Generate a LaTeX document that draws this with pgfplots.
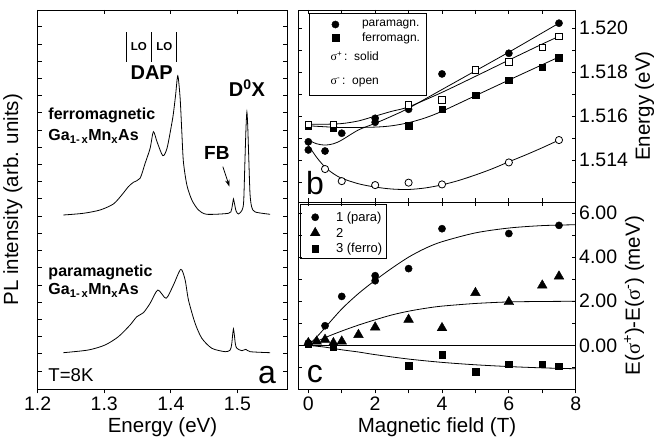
\documentclass[border=0pt]{standalone}
\usepackage{fontspec}
\setmainfont{Liberation Sans}
\newfontfamily\serif{Liberation Serif}
\usepackage{pgfplots}
\pgfplotsset{compat=1.18}
\usetikzlibrary{arrows.meta}

\newcommand{\fs}[1]{\fontsize{#1}{#1}\selectfont}
\newcommand{\sig}{{\serif σ}}

\pgfplotsset{
  panel/.style={
    scale only axis,
    axis line style={line width=0.9pt},
    tick style={black, line width=0.8pt},
    major tick length=4pt, minor tick length=4pt,
    tick label style={font=\fs{19.5}},
    label style={font=\fs{20.5}},
    /pgf/number format/assume math mode=true,
    clip=false,
  },
  toponly/.style={
    scale only axis,
    axis line style={line width=0.9pt},
    tick style={black, line width=0.8pt},
    major tick length=4pt,
    xtick pos=right, xtick align=inside, xticklabels={}, ytick=\empty,
  },
  fit/.style={black, line width=0.8pt, smooth, no markers},
  spec/.style={black, line width=0.8pt, smooth, tension=0.45, no markers},
  dot/.style={only marks, mark=*, mark size=3.6pt, black},
  odot/.style={only marks, mark=*, mark size=3.6pt, black, mark options={fill=white, line width=0.8pt}},
  sq/.style={only marks, mark=square*, mark size=3.3pt, black},
  osq/.style={only marks, mark=square*, mark size=3.3pt, black, mark options={fill=white, line width=0.8pt}},
  tri/.style={only marks, mark=triangle*, mark size=5.6pt, black},
  keybox/.style={legend style={draw=none, fill=none, inner sep=0pt, row sep=0pt,
    nodes={inner xsep=2pt, inner ysep=2pt}}, legend cell align=left},
}

\begin{document}
\begin{tikzpicture}
\path[use as bounding box] (0pt,0pt) rectangle (662pt,444pt);

% ---------------- panel a: PL spectra ----------------
\begin{axis}[panel,
  at={(37.7pt,54.5pt)}, anchor=south west,
  width=249.6pt, height=379.5pt,
  xmin=1.2, xmax=1.575, ymin=-0.5, ymax=379,
  xtick={1.2,1.3,1.4,1.5}, xticklabels={1.2,1.3,1.4,1.5},
  xtick pos=left, xtick align=outside,
  ytick={18,35.215,...,363}, yticklabels={},
  ytick pos=both, ytick align=inside,
  xlabel={Energy (eV)},
  ylabel={PL intensity (arb. units)},
  ylabel style={at={(axis description cs:-0.1,0.5)}, anchor=center},
]
% ferromagnetic sample
\addplot[spec] coordinates {
 (1.2385,174) (1.2686,175.7) (1.2937,179) (1.3137,185) (1.3263,194)
 (1.3362,202.3) (1.3438,206.7) (1.3538,210.7) (1.3614,225.7) (1.3689,240.7)
 (1.3738,257.3) (1.3794,247) (1.3880,233.3) (1.3944,241) (1.4015,265.7)
 (1.4039,275.7) (1.4072,294) (1.4105,313.3) (1.4140,290.7) (1.4165,257.3)
 (1.4189,227.3) (1.4241,204) (1.4316,189) (1.4415,179) (1.4541,174.7)
 (1.4866,175.7) (1.4910,179) (1.4930,186) (1.4941,190) (1.4955,186)
 (1.4980,178) (1.5017,175) (1.5072,179) (1.5095,188) (1.5113,227)
 (1.5130,262) (1.5143,277) (1.5156,262) (1.5173,227) (1.5190,195)
 (1.5215,182) (1.5268,177) (1.5493,174.7)
};
% paramagnetic sample
\addplot[spec] coordinates {
 (1.2385,36.3) (1.2761,39) (1.3012,44) (1.3212,52.3) (1.3388,64)
 (1.3489,72.3) (1.3588,76.3) (1.3689,85.7) (1.3805,99) (1.3929,90.7)
 (1.4039,104) (1.4150,119.7) (1.4215,109) (1.4265,89) (1.4365,65.7)
 (1.4466,50.7) (1.4617,40.7) (1.4817,37.3) (1.4892,39) (1.4915,45)
 (1.4930,55) (1.4941,60) (1.4953,55) (1.4970,45) (1.4992,40.7)
 (1.5068,38.3) (1.5128,39.7) (1.5193,37.3) (1.5493,36.3)
};
% LO phonon replica markers
\draw[line width=0.8pt] (axis cs:1.3328,327.3) -- (axis cs:1.3328,357.3);
\draw[line width=0.8pt] (axis cs:1.3714,327.3) -- (axis cs:1.3714,357.3);
\draw[line width=0.8pt] (axis cs:1.4090,327.3) -- (axis cs:1.4090,357.3);
\node[font=\fs{11.5}\bfseries] at (axis cs:1.3520,342.3) {LO};
\node[font=\fs{11.5}\bfseries] at (axis cs:1.3904,342.3) {LO};
\node[font=\fs{20}\bfseries] at (axis cs:1.3713,316.3) {DAP};
\node[font=\fs{20}\bfseries] at (axis cs:1.5143,300.7) {D\textsuperscript{0}X};
\node[font=\fs{19}\bfseries] at (axis cs:1.4692,235.7) {FB};
\draw[line width=0.8pt, -{Stealth[length=7pt,width=4.5pt]}] (axis cs:1.4782,222.3) -- (axis cs:1.4881,202.3);
\node[font=\fs{16}\bfseries, anchor=west, inner sep=0pt] at (axis cs:1.2159,274) {ferromagnetic};
\node[font=\fs{16}\bfseries, anchor=west, inner sep=0pt] at (axis cs:1.2159,252.3) {Ga\textsubscript{1-\,x}Mn\textsubscript{x}As};
\node[font=\fs{16}\bfseries, anchor=west, inner sep=0pt] at (axis cs:1.2159,116.3) {paramagnetic};
\node[font=\fs{16}\bfseries, anchor=west, inner sep=0pt] at (axis cs:1.2159,98.3) {Ga\textsubscript{1-\,x}Mn\textsubscript{x}As};
\node[font=\fs{18.6}, anchor=west, inner sep=0pt] at (axis cs:1.2159,14) {T=8K};
\node[font=\fs{32}] at (axis cs:1.5444,14) {a};
\end{axis}
\begin{axis}[toponly,
  at={(37.7pt,54.5pt)}, anchor=south west,
  width=249.6pt, height=379.5pt,
  xmin=1.2, xmax=1.575, ymin=-0.5, ymax=379,
  xtick={1.2,1.3,1.4,1.5},
]
\end{axis}

% ---------------- panel b: line energies ----------------
\begin{axis}[panel, keybox,
  at={(298.3pt,242pt)}, anchor=south west,
  width=277.4pt, height=192pt,
  xmin=-0.3, xmax=8, ymin=1.51209, ymax=1.52083,
  xtick={0,...,8}, xticklabels={}, xtick pos=both, xtick align=inside,
  ytick={1.514,1.516,1.518,1.520}, yticklabels={1.514,1.516,1.518,1.520},
  minor ytick={1.513,1.515,1.517,1.519},
  ytick pos=both, yticklabel pos=right, ytick align=inside,
  ylabel={Energy (eV)},
  legend style={at={(axis description cs:0.1023,0.9566)}, anchor=north west,
    font=\fs{12}, /tikz/every odd column/.append style={column sep=21pt}},
]
\draw[line width=0.6pt] (axis description cs:0.0397,0.9828) rectangle (axis description cs:0.4629,0.5573);
\addlegendimage{dot}
\addlegendentry{paramagn.}
\addlegendimage{sq}
\addlegendentry{ferromagn.}
\addlegendimage{legend image code/.code={\node[overlay, anchor=west, inner sep=0pt, font=\fs{12}] at (3.5pt,0pt) {\sig\textsuperscript{+}\,:\ \ solid};}}
\addlegendentry{\rule[-3pt]{0pt}{21.8pt}}
\addlegendimage{legend image code/.code={\node[overlay, anchor=west, inner sep=0pt, font=\fs{12}] at (3.5pt,0pt) {\sig\textsuperscript{-}\,:\ \ open};}}
\addlegendentry{\rule[-3pt]{0pt}{24pt}}
% fitted curves
\addplot[fit, forget plot] coordinates {
 (0,1.51491) (0.25,1.51474) (0.5,1.51468) (0.75,1.51474) (1,1.51491)
 (1.5,1.51537) (2,1.51567) (2.5,1.51600) (3,1.51636) (4,1.51721)
 (5,1.51806) (6,1.51891) (7,1.51979) (7.5,1.52023)};
\addplot[fit, forget plot] coordinates {
 (0,1.51563) (0.5,1.51563) (1,1.51566) (1.5,1.51578) (2,1.51600)
 (2.5,1.51622) (3,1.51642) (4,1.51708) (5,1.51781) (6,1.51855)
 (7,1.51928) (7.5,1.51963)};
\addplot[fit, forget plot] coordinates {
 (0,1.51556) (1,1.51548) (2,1.51550) (2.5,1.51556) (3,1.51570)
 (3.5,1.51592) (4,1.51622) (5,1.51693) (6,1.51764) (7,1.51834) (7.5,1.51869)};
\addplot[fit, forget plot] coordinates {
 (0,1.51468) (0.25,1.51412) (0.5,1.51368) (0.75,1.51338) (1,1.51317)
 (1.5,1.51292) (2,1.51277) (2.5,1.51268) (3,1.51266) (3.5,1.51273)
 (4,1.51287) (4.5,1.51307) (5,1.51332) (5.5,1.51360) (6,1.51392)
 (6.5,1.51423) (7,1.51456) (7.5,1.51491)};
% paramagnetic, sigma+
\addplot[dot, forget plot] coordinates {
 (0,1.51483) (0,1.51446) (0.5,1.51441) (1,1.51522) (2,1.51590) (2,1.51572)
 (3,1.51631) (4,1.51792) (6,1.51886) (7.5,1.52023)};
% paramagnetic, sigma-
\addplot[odot, forget plot] coordinates {
 (0.5,1.51359) (1,1.51304) (2,1.51286) (3,1.51297) (4,1.51289) (6,1.51389) (7.5,1.51491)};
% ferromagnetic, sigma+
\addplot[sq, forget plot] coordinates {
 (0,1.51556) (0.75,1.51547) (3,1.51556) (4,1.51631) (5,1.51696) (6,1.51764) (7,1.51822) (7.5,1.51866)};
% ferromagnetic, sigma-
\addplot[osq, forget plot] coordinates {
 (0,1.51563) (0.75,1.51563) (3,1.51651) (4,1.51673) (5,1.51810) (6,1.51848) (7,1.51912) (7.5,1.51962)};
\node[font=\fs{32}] at (axis description cs:0.06,0.099) {b};
\end{axis}

% ---------------- panel c: Zeeman splitting ----------------
\begin{axis}[panel, keybox,
  at={(298.3pt,54.5pt)}, anchor=south west,
  width=277.4pt, height=187.5pt,
  xmin=-0.3, xmax=8, ymin=-2, ymax=6.5,
  xtick={0,...,8}, xticklabels={0,,2,,4,,6,,8},
  xtick pos=left, xtick align=outside,
  ytick={0,2,4,6}, yticklabels={0.00,2.00,4.00,6.00},
  minor ytick={-1,1,3,5},
  ytick pos=both, yticklabel pos=right, ytick align=inside,
  xlabel={Magnetic field (T)},
  ylabel={E(\sig\textsuperscript{+})-E(\sig\textsuperscript{-}) (meV)},
  legend style={at={(axis description cs:0.0427,0.9595)}, anchor=north west,
    font=\fs{13}, /tikz/every odd column/.append style={column sep=14pt}},
]
\draw[line width=0.6pt] (axis description cs:0.0061,0.9867) rectangle (axis description cs:0.3187,0.7024);
\addlegendimage{dot}
\addlegendentry{1 (para)}
\addlegendimage{tri}
\addlegendentry{\rule{0pt}{11pt}2}
\addlegendimage{sq}
\addlegendentry{3 (ferro)}
\addplot[black, line width=0.8pt, forget plot] coordinates {(-0.3,0) (8,0)};
\addplot[fit, forget plot] coordinates {
 (0,0) (0.25,0.38) (0.5,0.8) (1,1.65) (1.5,2.35) (2,2.95) (2.5,3.5)
 (3,4.0) (3.5,4.4) (4,4.7) (5,5.1) (6,5.32) (7,5.43) (8,5.47)};
\addplot[fit, forget plot] coordinates {
 (0,0) (0.5,0.35) (1,0.65) (1.5,0.92) (2,1.16) (2.5,1.38) (3,1.55)
 (3.5,1.68) (4,1.78) (5,1.9) (6,1.97) (7,1.99) (8,2.0)};
\addplot[fit, forget plot] coordinates {
 (0,0) (0.5,-0.08) (1,-0.2) (1.5,-0.3) (2,-0.42) (3,-0.62) (4,-0.77)
 (5,-0.88) (6,-0.96) (7,-1.02) (8,-1.06)};
\addplot[tri, forget plot] coordinates {
 (0,0.11) (0.25,0.18) (0.5,0.26) (0.75,0.11) (1,0.18) (1.5,0.48) (2,0.82)
 (3,1.17) (4,0.79) (5,2.38) (6,1.97) (7,2.72) (7.5,3.13)};
\addplot[sq, forget plot] coordinates {
 (0,0.05) (0.75,-0.07) (3,-0.92) (4,-0.42) (5,-1.18) (6,-0.85) (7,-0.85) (7.5,-0.95)};
\addplot[dot, forget plot] coordinates {
 (0,0.11) (0.5,0.89) (1,2.22) (2,2.93) (2,3.16) (3,3.48) (4,5.29) (6,5.07) (7.5,5.44)};
\node[font=\fs{32}] at (axis description cs:0.06,0.085) {c};
\end{axis}
\begin{axis}[toponly,
  at={(298.3pt,54.5pt)}, anchor=south west,
  width=277.4pt, height=187.5pt,
  xmin=-0.3, xmax=8, ymin=-2, ymax=6.5,
  xtick={0,...,8},
]
\end{axis}
\end{tikzpicture}
\end{document}
